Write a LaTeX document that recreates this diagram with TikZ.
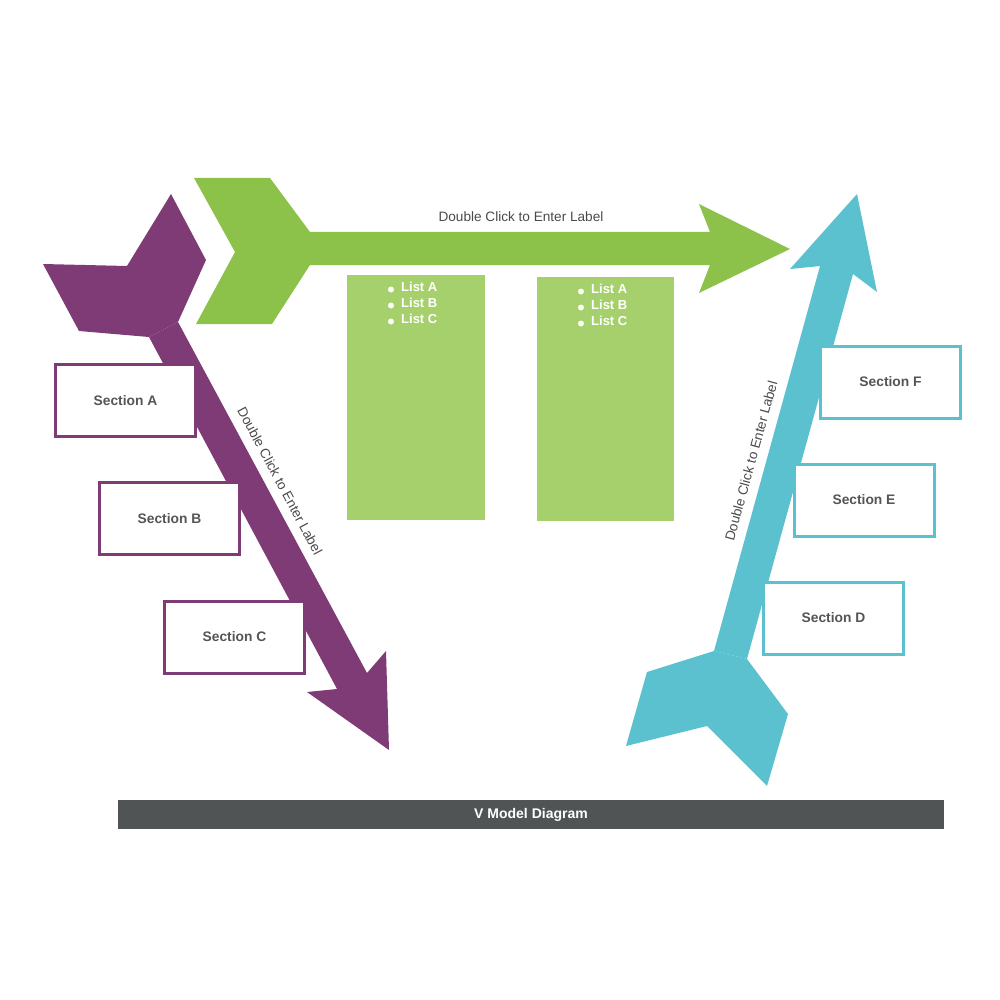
\documentclass[tikz,border=0pt]{standalone}
\usepackage{fontspec}
\setmainfont{Liberation Sans}
\definecolor{vpurple}{HTML}{7F3B76}
\definecolor{vgreen}{HTML}{8DC24A}
\definecolor{vlgreen}{HTML}{A6D06C}
\definecolor{vcyan}{HTML}{5BC1CE}
\definecolor{vbar}{HTML}{505455}
\definecolor{vtext}{HTML}{555555}
\definecolor{vlabel}{HTML}{4A4A4A}
\begin{document}
\begin{tikzpicture}[x=1pt,y=-1pt,
  secbox/.style={draw=#1,line width=3pt,fill=white,minimum width=140pt,minimum height=72pt,
    inner sep=0pt,font=\fontsize{13.8}{16}\selectfont\bfseries,text=vtext},
  lbl/.style={font=\fontsize{13.6}{15}\selectfont,text=vlabel,inner sep=0pt},
  listitem/.style={anchor=west,inner sep=0pt,text=white,font=\fontsize{13}{15}\selectfont\bfseries},
  bul/.style={circle,fill=white,minimum size=6pt,inner sep=0pt}
]
\useasboundingbox (0,0) rectangle (1000,1000);
% green arrow
\fill[vgreen] (194,178) -- (270,178) -- (310,232) -- (710,232) -- (699,204) -- (790,249)
  -- (699,293) -- (710,265) -- (310,265) -- (272,324) -- (196,324) -- (235,252) -- cycle;
% light green panels
\fill[vlgreen] (347,275) rectangle (485,520);
\fill[vlgreen] (537,277) rectangle (674,521);
% purple arrow
\fill[vpurple] (43,264) -- (127,266) -- (171,194) -- (206,260) -- (178,322) -- (149,337) -- (79,331) -- cycle;
\fill[vpurple] (149,337) -- (178,322) -- (367,673) -- (386,651) -- (389,750) -- (307,692) -- (337,689) -- cycle;
% cyan arrow
\fill[vcyan] (714,651) -- (820,266) -- (790,269) -- (857,194) -- (877,292) -- (853,274) -- (747,659) -- cycle;
\fill[vcyan] (714,651) -- (647,672) -- (626,746) -- (707,726) -- (767,786) -- (788,714) -- (747,659) -- cycle;
% labels
\node[lbl] (ltop) at (521,217) {Double Click to Enter Label};
\node[lbl,rotate=-61.9] (lleft) at (280,481) {Double Click to Enter Label};
\node[lbl,rotate=74.6] (lright) at (751,461) {Double Click to Enter Label};
% section boxes
\node[secbox=vpurple] (secA) at (125.5,400.5) {Section A};
\node[secbox=vpurple] (secB) at (169.5,518.5) {Section B};
\node[secbox=vpurple] (secC) at (234.5,637) {Section C};
\node[secbox=vcyan] (secF) at (890.5,382) {Section F};
\node[secbox=vcyan] (secE) at (864,500) {Section E};
\node[secbox=vcyan] (secD) at (833.5,618) {Section D};
% lists
\node[bul] (b1a) at (391,289.5) {};
\node[bul] (b1b) at (391,305.5) {};
\node[bul] (b1c) at (391,321.5) {};
\node[listitem] (l1a) at (401,287) {List A};
\node[listitem] (l1b) at (401,303) {List B};
\node[listitem] (l1c) at (401,319) {List C};
\node[bul] (b2a) at (581,291.5) {};
\node[bul] (b2b) at (581,307.5) {};
\node[bul] (b2c) at (581,323.5) {};
\node[listitem] (l2a) at (591,289) {List A};
\node[listitem] (l2b) at (591,305) {List B};
\node[listitem] (l2c) at (591,321) {List C};
% title bar
\node[fill=vbar,minimum width=826pt,minimum height=29pt,inner sep=0pt,text=white,
  font=\fontsize{14}{16}\selectfont\bfseries] (bar) at (531,814.5) {V Model Diagram};
\end{tikzpicture}
\end{document}
